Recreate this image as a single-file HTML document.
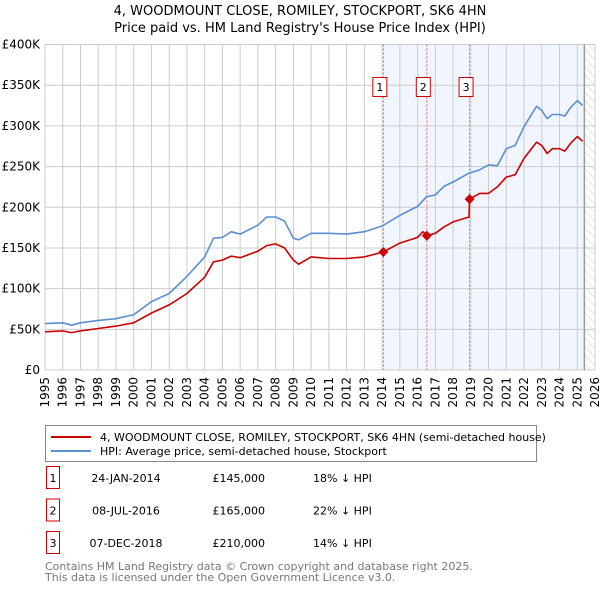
<!DOCTYPE html>
<html><head><meta charset="utf-8"><style>
body{margin:0;background:#fff;font-family:"DejaVu Sans","Liberation Sans",sans-serif;}
svg text{font-family:"DejaVu Sans","Liberation Sans",sans-serif;}
</style></head><body>
<svg id="chart" width="600" height="590" xmlns="http://www.w3.org/2000/svg">
<defs><pattern id="hatch" width="6" height="6" patternUnits="userSpaceOnUse" patternTransform="rotate(-45)"><line x1="0" y1="0" x2="0" y2="6" stroke="#ccc" stroke-width="1"/></pattern></defs>
<text x="300" y="15" font-size="13" text-anchor="middle">4, WOODMOUNT CLOSE, ROMILEY, STOCKPORT, SK6 4HN</text>
<text x="300" y="32" font-size="13" text-anchor="middle">Price paid vs. HM Land Registry's House Price Index (HPI)</text>
<g id="plot"></g>
<g>
<rect x="45.5" y="425.5" width="491" height="36" fill="#fff" stroke="#888"/>
<line x1="51" y1="437" x2="91" y2="437" stroke="#cc0000" stroke-width="2"/>
<text x="100" y="441" font-size="11">4, WOODMOUNT CLOSE, ROMILEY, STOCKPORT, SK6 4HN (semi-detached house)</text>
<line x1="51" y1="451" x2="91" y2="451" stroke="#5b8fd4" stroke-width="2"/>
<text x="100" y="455" font-size="11">HPI: Average price, semi-detached house, Stockport</text>
</g>
<g id="table"></g>
<text x="45" y="570" font-size="11" fill="#777">Contains HM Land Registry data © Crown copyright and database right 2025.</text>
<text x="45" y="581" font-size="11" fill="#777">This data is licensed under the Open Government Licence v3.0.</text>
</svg>
<script>
const hpiYears=[1995,1996,1996.5,1997,1998,1999,2000,2001,2002,2003,2004,2004.5,2005,2005.5,2006,2007,2007.5,2008,2008.5,2009,2009.3,2010,2011,2012,2013,2014,2015,2016,2016.5,2017,2017.5,2018,2018.9,2019.5,2020,2020.5,2021,2021.5,2022,2022.7,2023,2023.3,2023.6,2024,2024.3,2024.6,2025,2025.3];
const hpiValues=[57,58,55,58,61,63,68,84,94,115,139,162,163,170,167,178,188,188,183,162,160,168,168,167,170,177,190,201,213,215,226,231,242,246,252,251,272,276,299,324,319,309,314,314,312,322,331,325];
const priceYears=[1995,1996,1996.5,1997,1998,1999,2000,2001,2002,2003,2004,2004.5,2005,2005.5,2006,2007,2007.5,2008,2008.5,2009,2009.3,2010,2011,2012,2013,2014.07,2015,2016,2016.3,2016.52,2017,2017.5,2018,2018.9,2018.93,2019.5,2020,2020.5,2021,2021.5,2022,2022.7,2023,2023.3,2023.6,2024,2024.3,2024.6,2025,2025.3];
const priceValues=[47,48,46,48,51,54,58,70,80,94,114,133,135,140,138,146,153,155,150,135,130,139,137,137,139,145,156,163,170,165,168,176,182,188,210,217,217,225,237,240,260,280,276,266,272,272,269,278,287,281];
const saleLabels=["1","2","3"];
const saleYears=[2014.07,2016.52,2018.93];
const saleValues=[145,165,210];
const saleDates=["24-JAN-2014","08-JUL-2016","07-DEC-2018"];
const salePrices=["£145,000","£165,000","£210,000"];
const saleDiffs=["18% ↓ HPI","22% ↓ HPI","14% ↓ HPI"];
const yTicks=[0,50,100,150,200,250,300,350,400];
const yTickLabels=["£0","£50K","£100K","£150K","£200K","£250K","£300K","£350K","£400K"];
const xStart=1995,xEnd=2026,dataEnd=2025.4;

const L=45,R=595,T=44.5,B=370;
const xs=y=>L+(y-xStart)/(xEnd-xStart)*(R-L);
const ys=v=>B-v/400*(B-T);
const NS="http://www.w3.org/2000/svg";
const plot=document.getElementById('plot');
function mk(tag,attrs,parent){const e=document.createElementNS(NS,tag);for(const k in attrs)e.setAttribute(k,attrs[k]);(parent||plot).appendChild(e);return e;}

let r=mk('rect',{x:xs(saleYears[0]),y:T,width:xs(dataEnd)-xs(saleYears[0]),height:B-T,fill:'#eef3fc',opacity:0.8});


r=mk('rect',{x:xs(dataEnd),y:T,width:R-xs(dataEnd),height:B-T,fill:'url(#hatch)'});


yTicks.forEach((v,i)=>{
 let g=mk('line',{x1:L,x2:R,y1:ys(v),y2:ys(v),stroke:'#ccc','stroke-width':1});
 
 
 let t=mk('text',{x:L-5,y:ys(v)+4,'font-size':12,'text-anchor':'end'});
 t.textContent=yTickLabels[i];
 
 
});
for(let yr=xStart;yr<=xEnd;yr++){
 let g=mk('line',{x1:xs(yr),x2:xs(yr),y1:T,y2:B,stroke:'#ccc','stroke-width':1});
 
 
 let t=mk('text',{x:0,y:0,'font-size':12,'text-anchor':'end',transform:`translate(${xs(yr)+4},${B+7}) rotate(-90)`});
 t.textContent=yr;
 
 
}
let dl=mk('line',{x1:xs(dataEnd),x2:xs(dataEnd),y1:T,y2:B,stroke:'#999','stroke-width':1.5});


saleYears.forEach((yr,i)=>{
 let l=mk('line',{x1:xs(yr),x2:xs(yr),y1:T,y2:B,stroke:'#e06060','stroke-width':1,'stroke-dasharray':'2,2'});
 
 
 let b=mk('rect',{x:xs(yr)-10.5,y:77.5,width:14,height:19,fill:'#fff',stroke:'#cc0000'});
 
 
 let t=mk('text',{x:xs(yr)-3.5,y:91,'font-size':11,'text-anchor':'middle'});
 t.textContent=saleLabels[i];
 
 
});
function path(xa,va,color,name){
 let d=xa.map((x,i)=>(i?'L':'M')+xs(x).toFixed(1)+','+ys(va[i]).toFixed(1)).join(' ');
 let p=mk('path',{d:d,fill:'none',stroke:color,'stroke-width':1.6,'stroke-linejoin':'round'});
 
 
}
path(hpiYears,hpiValues,'#5b8fd4','hpi-line');
path(priceYears,priceValues,'#cc0000','price-paid-line');
saleYears.forEach((yr,i)=>{
 let c=mk('path',{d:`M${xs(yr)},${ys(saleValues[i])-5} l5,5 l-5,5 l-5,-5 z`,fill:'#cc0000'});
 
 
});
const tb=document.getElementById('table');
saleLabels.forEach((lab,i)=>{
 const y=478+i*32.5;
 let b=mk('rect',{x:46.5,y:y-11.5,width:13,height:22,fill:'#fff',stroke:'#cc0000'},tb);
 
 
 const cells=[[53,lab,'middle','table-marker-label'],[126,saleDates[i],'middle','sale-date'],[265,salePrices[i],'end','sale-price'],[313,saleDiffs[i],'start','sale-hpi-diff']];
 cells.forEach(c=>{
  let t=mk('text',{x:c[0],y:y+4,'font-size':11,'text-anchor':c[2]},tb);
  t.textContent=c[1];
  
  
 });
});
</script>
</body></html>
